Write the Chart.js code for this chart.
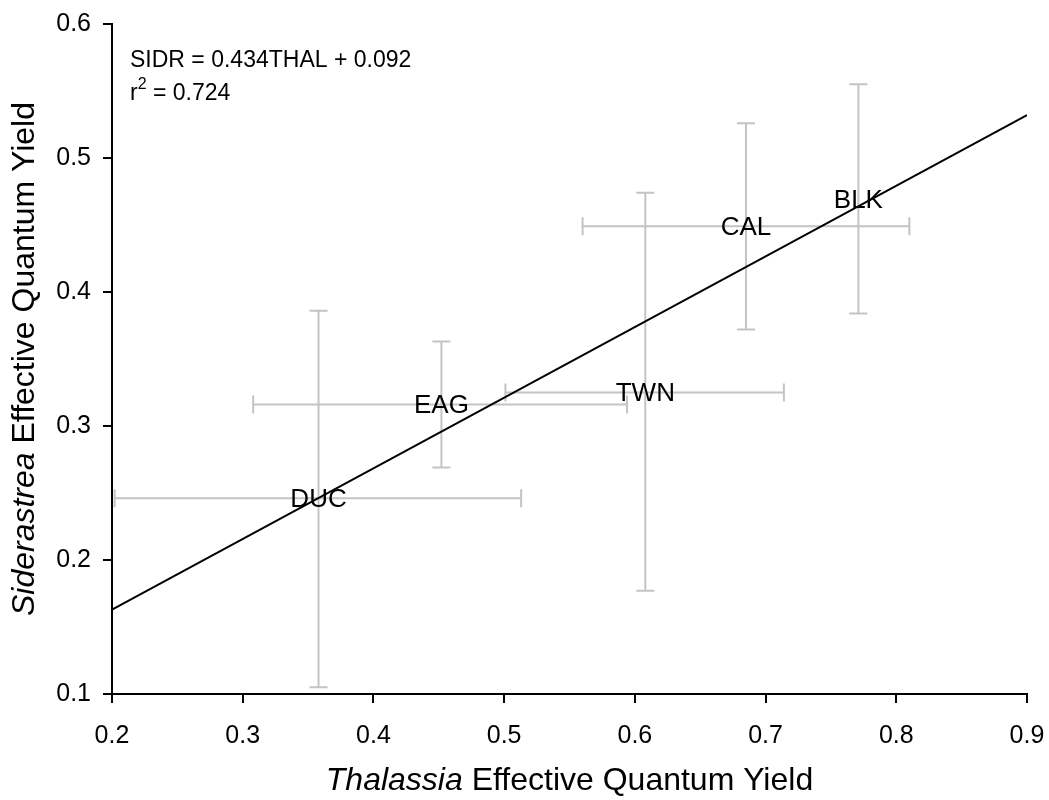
<!DOCTYPE html>
<html>
<head>
<meta charset="utf-8">
<script src="https://cdn.jsdelivr.net/npm/chart.js@4"></script>
<style>
  body { margin: 0; background: #fff; }
  #wrap { width: 1049px; height: 800px; }
</style>
</head>
<body>
<div id="wrap"><canvas id="mainChart"></canvas></div>
<script>
// site means and error bar ends
const sites = ['DUC', 'EAG', 'TWN', 'CAL', 'BLK'];
const thalMean = [0.358, 0.452, 0.608, 0.685, 0.771];
const thalLow = [0.202, 0.308, 0.501, 0.560, null];
const thalHigh = [0.513, 0.594, 0.714, 0.810, null];
const sidrMean = [0.246, 0.316, 0.325, 0.449, 0.469];
const sidrLow = [0.105, 0.269, 0.177, 0.372, 0.384];
const sidrHigh = [0.386, 0.363, 0.474, 0.526, 0.555];

// regression line as drawn
const fitX = [0.2, 0.9];
const fitY = [0.163, 0.532];

const eqLine = 'SIDR = 0.434THAL + 0.092';
const r2Value = ' = 0.724';

const FONT = "'Liberation Sans', Arial, sans-serif";

const errorBars = {
    id: 'errorBars',
    beforeDatasetsDraw(chart) {
        const ctx = chart.ctx;
        const xs = chart.scales.x;
        const ys = chart.scales.y;
        const cap = 9;
        ctx.save();
        ctx.strokeStyle = '#c4c4c4';
        ctx.lineWidth = 2;
        ctx.beginPath();
        for (let i = 0; i < sites.length; i++) {
            const px = xs.getPixelForValue(thalMean[i]);
            const py = ys.getPixelForValue(sidrMean[i]);
            // vertical
            const yt = ys.getPixelForValue(sidrHigh[i]);
            const yb = ys.getPixelForValue(sidrLow[i]);
            ctx.moveTo(px, yt); ctx.lineTo(px, yb);
            ctx.moveTo(px - cap, yt); ctx.lineTo(px + cap, yt);
            ctx.moveTo(px - cap, yb); ctx.lineTo(px + cap, yb);
            // horizontal
            if (thalLow[i] !== null) {
                const xl = xs.getPixelForValue(thalLow[i]);
                const xr = xs.getPixelForValue(thalHigh[i]);
                ctx.moveTo(xl, py); ctx.lineTo(xr, py);
                ctx.moveTo(xl, py - cap); ctx.lineTo(xl, py + cap);
                ctx.moveTo(xr, py - cap); ctx.lineTo(xr, py + cap);
            }
        }
        ctx.stroke();

        // site labels
        ctx.fillStyle = '#000';
        ctx.font = '26px ' + FONT;
        ctx.textAlign = 'center';
        ctx.textBaseline = 'middle';
        for (let i = 0; i < sites.length; i++) {
            ctx.fillText(sites[i], xs.getPixelForValue(thalMean[i]), ys.getPixelForValue(sidrMean[i]) + 1);
        }
        ctx.restore();
    }
};

const textBits = {
    id: 'textBits',
    afterDraw(chart) {
        const ctx = chart.ctx;
        const a = chart.chartArea;
        ctx.save();
        ctx.fillStyle = '#000';
        ctx.textBaseline = 'alphabetic';
        ctx.textAlign = 'left';

        // equation
        const ex = a.left + 18;
        ctx.font = '23px ' + FONT;
        ctx.fillText(eqLine, ex, 67);
        ctx.fillText('r', ex, 100);
        let w = ctx.measureText('r').width;
        ctx.font = '16px ' + FONT;
        ctx.fillText('2', ex + w, 89);
        w += ctx.measureText('2').width;
        ctx.font = '23px ' + FONT;
        ctx.fillText(r2Value, ex + w, 100);

        // x title, mixed italic
        const xPart1 = 'Thalassia';
        const xPart2 = ' Effective Quantum Yield';
        ctx.font = 'italic 32px ' + FONT;
        const w1 = ctx.measureText(xPart1).width;
        ctx.font = '32px ' + FONT;
        const w2 = ctx.measureText(xPart2).width;
        let sx = (a.left + a.right) / 2 - (w1 + w2) / 2;
        ctx.font = 'italic 32px ' + FONT;
        ctx.fillText(xPart1, sx, 790);
        ctx.font = '32px ' + FONT;
        ctx.fillText(xPart2, sx + w1, 790);

        // y title, rotated
        const yPart1 = 'Siderastrea';
        const yPart2 = ' Effective Quantum Yield';
        ctx.translate(34, (a.top + a.bottom) / 2);
        ctx.rotate(-Math.PI / 2);
        ctx.font = 'italic 32px ' + FONT;
        const v1 = ctx.measureText(yPart1).width;
        ctx.font = '32px ' + FONT;
        const v2 = ctx.measureText(yPart2).width;
        const sy = -(v1 + v2) / 2;
        ctx.font = 'italic 32px ' + FONT;
        ctx.fillText(yPart1, sy, 0);
        ctx.font = '32px ' + FONT;
        ctx.fillText(yPart2, sy + v1, 0);
        ctx.restore();
    }
};

const ctxMain = document.getElementById('mainChart').getContext('2d');
window.mainChart = new Chart(ctxMain, {
    type: 'scatter',
    data: {
        datasets: [{
            label: 'fit',
            data: fitX.map((x, i) => ({x: x, y: fitY[i]})),
            showLine: true,
            borderColor: '#000',
            borderWidth: 2,
            pointRadius: 0,
            fill: false
        }, {
            label: 'sites',
            data: thalMean.map((x, i) => ({x: x, y: sidrMean[i]})),
            pointRadius: 0,
            showLine: false
        }]
    },
    options: {
        responsive: true,
        maintainAspectRatio: false,
        animation: false,
        layout: {padding: {top: 24, right: 22, left: 0, bottom: 0}},
        plugins: {
            legend: {display: false},
            tooltip: {enabled: false}
        },
        scales: {
            x: {
                type: 'linear',
                min: 0.2, max: 0.9,
                afterFit: (s) => { s.height = 106; s.paddingLeft = 0; s.paddingRight = 0; },
                border: {color: '#000', width: 2},
                grid: {drawOnChartArea: false, drawTicks: true, tickLength: 9, color: '#000', lineWidth: 2},
                ticks: {
                    stepSize: 0.1,
                    color: '#000',
                    font: {family: FONT, size: 25},
                    padding: 18,
                    maxRotation: 0,
                    callback: (v) => v.toFixed(1)
                }
            },
            y: {
                type: 'linear',
                min: 0.1, max: 0.6,
                afterFit: (s) => { s.width = 112; s.paddingTop = 0; s.paddingBottom = 0; },
                border: {color: '#000', width: 2},
                grid: {drawOnChartArea: false, drawTicks: true, tickLength: 9, color: '#000', lineWidth: 2},
                ticks: {
                    stepSize: 0.1,
                    color: '#000',
                    font: {family: FONT, size: 25},
                    padding: 12,
                    callback: (v) => v.toFixed(1)
                }
            }
        }
    },
    plugins: [errorBars, textBits]
});
</script>
</body>
</html>
